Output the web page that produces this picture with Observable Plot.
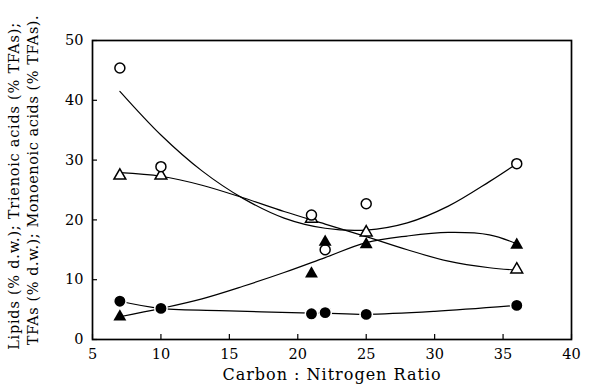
<!DOCTYPE html>
<html>
<head>
<meta charset="utf-8">
<script src="https://cdn.jsdelivr.net/npm/d3@7"></script>
<script src="https://cdn.jsdelivr.net/npm/@observablehq/plot@0.6"></script>
<style>
  html, body { margin: 0; padding: 0; background: white; }
</style>
</head>
<body>
<div id="chart"></div>
<script>
// Tick labels
const xTicks = [5, 10, 15, 20, 25, 30, 35, 40];
const yTicks = [0, 10, 20, 30, 40, 50];

// Measured points
const lipidX = [7, 10, 21, 22, 25, 36];
const lipidY = [45.4, 28.9, 20.8, 15.0, 22.7, 29.4];
const tfaX = [7, 10, 21, 25, 36];
const tfaY = [27.4, 27.4, 20.2, 17.9, 11.7];
const trienX = [7, 21, 22, 25, 36];
const trienY = [3.8, 11.0, 16.3, 15.9, 15.8];
const monoX = [7, 10, 21, 22, 25, 36];
const monoY = [6.4, 5.2, 4.3, 4.5, 4.2, 5.7];

// Fitted curves
const fitX = [7, 10, 13, 16, 19, 22, 25, 28, 31, 34, 36];
const lipidFitY = [41.5, 34.2, 28.2, 23.6, 20.3, 18.6, 18.3, 19.5, 22.3, 26.4, 29.4];
const tfaFitY = [27.9, 27.3, 25.8, 23.7, 21.4, 19.3, 17.2, 15.0, 13.1, 12.0, 11.6];
const trienFitY = [3.8, 5.2, 6.8, 8.9, 11.2, 13.7, 16.2, 17.3, 17.9, 17.5, 16.0];
const monoFitX = [7, 10, 15, 21, 22, 25, 30, 36];
const monoFitY = [6.4, 5.2, 4.8, 4.4, 4.4, 4.2, 4.7, 5.7];

const xLabel = "Carbon : Nitrogen Ratio";
const yLabel1 = "Lipids (% d.w.); Trienoic acids (% TFAs);";
const yLabel2 = "TFAs (% d.w.); Monoenoic acids (% TFAs).";

const pts = (xs, ys) => xs.map((x, i) => ({x, y: ys[i]}));

const W = 593, H = 391, mL = 92, mR = 22, mT = 40, mB = 52;
const plotW = W - mL - mR, plotH = H - mT - mB;

const lineStyle = {x: "x", y: "y", curve: "catmull-rom", stroke: "black", strokeWidth: 1.2};

const chart = Plot.plot({
  width: W, height: H,
  marginLeft: mL, marginRight: mR, marginTop: mT, marginBottom: mB,
  style: {fontFamily: "DejaVu Serif", fontSize: "14px", color: "black", background: "white"},
  x: {domain: [5, 40], label: null},
  y: {domain: [0, 50], label: null},
  marks: [
    Plot.axisX(xTicks, {tickSize: 0, tickPadding: 9, fontSize: 14.5, label: null}),
    Plot.axisY(yTicks, {tickSize: 0, tickPadding: 9, fontSize: 14.5, label: null}),
    Plot.tickX(xTicks, {x: d => d, insetTop: plotH - 5, stroke: "black", strokeWidth: 1.2}),
    Plot.tickY(yTicks, {y: d => d, insetRight: plotW - 5, stroke: "black", strokeWidth: 1.2}),
    Plot.line(pts(fitX, lipidFitY), lineStyle),
    Plot.line(pts(fitX, tfaFitY), lineStyle),
    Plot.line(pts(fitX, trienFitY), lineStyle),
    Plot.line(pts(monoFitX, monoFitY), lineStyle),
    Plot.dot(pts(monoX, monoY), {x: "x", y: "y", r: 6.2, fill: "black", stroke: "white", strokeWidth: 1.5}),
    Plot.dot(pts(tfaX, tfaY), {x: "x", y: "y", symbol: "triangle", r: 4.4, fill: "white", stroke: "black", strokeWidth: 1.5}),
    Plot.dot(pts(lipidX, lipidY), {x: "x", y: "y", r: 5, fill: "white", stroke: "black", strokeWidth: 1.5}),
    Plot.dot(pts(trienX, trienY), {x: "x", y: "y", symbol: "triangle", r: 4.8, fill: "black", stroke: "none"}),
    Plot.frame({stroke: "black", strokeWidth: 1.7}),
    Plot.text([xLabel], {frameAnchor: "bottom", textAnchor: "middle", dy: 40, fontSize: 16, fill: "black"}),
    Plot.text([yLabel1], {frameAnchor: "left", textAnchor: "middle", rotate: -90, dx: -78, dy: -4, fontSize: 14.5, fill: "black"}),
    Plot.text([yLabel2], {frameAnchor: "left", textAnchor: "middle", rotate: -90, dx: -59, dy: -10, fontSize: 14.5, fill: "black"})
  ]
});
d3.select(chart).selectAll("text").each(function () {
  const t = this.textContent;
  if (t === xLabel) this.setAttribute("letter-spacing", "1px");
  if (t === yLabel1) this.setAttribute("letter-spacing", "0.75px");
  if (t === yLabel2) this.setAttribute("letter-spacing", "0.55px");
});
document.getElementById("chart").appendChild(chart);
</script>
</body>
</html>
